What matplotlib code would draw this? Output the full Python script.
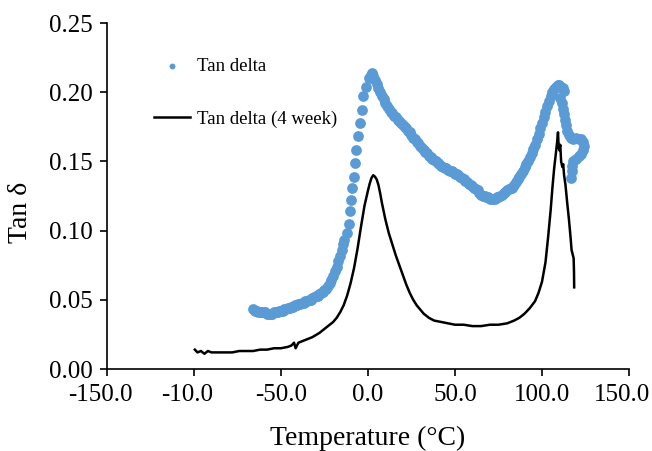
import matplotlib
import matplotlib.transforms as mtransforms

matplotlib.use('Agg')
import matplotlib.pyplot as plt  # noqa: E402

plt.rcParams['font.family'] = ['Liberation Serif', 'DejaVu Serif']

# Tan delta (fresh)
blue_t = [-66, -65, -64, -63, -62, -61, -60, -59, -58, -57, -56, -55, -54, -53,
          -52, -51, -50, -49, -48, -47, -46, -45, -44, -43, -42, -41, -40, -39,
          -38, -37, -36, -35, -34, -33, -32, -31, -30, -29, -28, -27, -26, -25,
          -24, -23, -22, -21, -20, -19, -18, -17, -16, -15, -14.3, -13.8, -11.9,
          -10.9, -10.5, -9.8, -9.0, -8.2, -7.5, -6.7, -5.6, -4.8, -3.6, -2.9,
          -1.3, 0.6, 1.5, 2.5,
          3, 4, 5, 6, 7, 8, 9, 10, 11, 12, 13, 14, 15, 16, 17, 18, 19, 20, 21,
          22, 23, 24, 25, 26, 27, 28, 29, 30, 31, 32, 33, 34, 35, 36, 37, 38,
          39, 40, 41, 42, 43, 44, 45, 46, 47, 48, 49, 50, 51, 52, 53, 54, 55,
          56, 57, 58, 59, 60, 61, 62, 63, 64, 65, 66, 67, 68, 69, 70, 71, 72,
          73, 74, 75, 76, 77, 78, 79, 80, 81, 82, 83, 84, 85, 86, 87, 88, 89,
          90, 91, 92, 93, 94, 95, 96, 97, 98, 99, 100, 101, 102, 103, 104, 105,
          106, 107, 108, 109, 110, 111, 112, 112.6,
          110.5, 111.5, 112, 112.8, 113.2, 114, 114.5, 115.5, 116.5, 118, 119.5,
          121, 122.5, 123.5, 124, 123.5, 122.5, 121, 119.5, 118, 117.5, 117,
          116.6]
blue_tan = [0.043, 0.042, 0.042, 0.041, 0.041, 0.041, 0.041, 0.041, 0.040, 0.040,
            0.040, 0.040, 0.041, 0.041, 0.041, 0.042, 0.042, 0.042, 0.043, 0.043,
            0.044, 0.044, 0.045, 0.045, 0.046, 0.046, 0.047, 0.047, 0.048, 0.048,
            0.049, 0.049, 0.050, 0.050, 0.051, 0.052, 0.053, 0.053, 0.054, 0.055,
            0.056, 0.057, 0.058, 0.060, 0.062, 0.064, 0.067, 0.071, 0.074, 0.078,
            0.082, 0.086, 0.090, 0.093, 0.098, 0.105, 0.114, 0.122, 0.131, 0.139,
            0.149, 0.158, 0.168, 0.178, 0.187, 0.197, 0.204, 0.210, 0.2125, 0.2136,
            0.212, 0.209, 0.206, 0.203, 0.200, 0.197, 0.195, 0.192, 0.190, 0.188,
            0.186, 0.185, 0.183, 0.182, 0.180, 0.179, 0.178, 0.176, 0.175, 0.174,
            0.172, 0.171, 0.169, 0.167, 0.166, 0.164, 0.163, 0.161, 0.160, 0.158,
            0.157, 0.156, 0.154, 0.153, 0.152, 0.151, 0.150, 0.149, 0.148, 0.147,
            0.146, 0.145, 0.145, 0.144, 0.143, 0.143, 0.142, 0.141, 0.141, 0.140,
            0.139, 0.138, 0.137, 0.136, 0.135, 0.134, 0.133, 0.132, 0.131, 0.130,
            0.129, 0.127, 0.126, 0.125, 0.125, 0.124, 0.124, 0.123, 0.123, 0.123,
            0.123, 0.124, 0.124, 0.125, 0.126, 0.127, 0.128, 0.129, 0.130, 0.131,
            0.131, 0.133, 0.135, 0.137, 0.139, 0.141, 0.143, 0.146, 0.148, 0.150,
            0.153, 0.156, 0.159, 0.162, 0.166, 0.170, 0.174, 0.178, 0.182, 0.186,
            0.190, 0.194, 0.197, 0.200, 0.202, 0.204, 0.205, 0.205, 0.204, 0.203,
            0.201,
            0.196, 0.192, 0.188, 0.184, 0.180, 0.176, 0.172, 0.169, 0.167, 0.166,
            0.167, 0.166, 0.166, 0.164, 0.161, 0.158, 0.155, 0.154, 0.152, 0.150,
            0.147, 0.143, 0.138]

# Tan delta after 4 weeks
black_t = [-99.5, -98, -96, -94, -92, -90, -86, -82, -78, -74, -70, -66, -62, -58,
           -54, -50, -46, -44, -42.5, -41.6, -40, -36, -32, -28, -24, -20, -18,
           -16, -14, -12, -10, -8, -6, -4, -2, 0, 1, 2, 3, 4, 5, 6, 7, 8, 10, 12,
           14, 16, 18, 20, 22, 24, 26, 28, 30, 32, 35, 38, 42, 46, 50, 55, 60,
           65, 70, 75, 80, 84, 87, 90, 93, 96, 98, 100, 102, 103.5, 105, 106,
           107, 108, 108.7, 109.2, 109.6, 110, 110.5, 111, 111.7, 112.2, 112.7,
           113.5, 114.5, 115.5, 116.5, 117, 117.8, 118.2, 118.4, 118.5]
black_tan = [0.014, 0.012, 0.013, 0.011, 0.013, 0.012, 0.012, 0.012, 0.012, 0.013,
             0.013, 0.013, 0.014, 0.014, 0.015, 0.015, 0.016, 0.017, 0.019, 0.015,
             0.019, 0.021, 0.023, 0.026, 0.030, 0.034, 0.037, 0.041, 0.046, 0.053,
             0.062, 0.073, 0.087, 0.103, 0.118, 0.129, 0.134, 0.138, 0.140, 0.139,
             0.137, 0.133, 0.127, 0.120, 0.108, 0.098, 0.090, 0.082, 0.075, 0.068,
             0.061, 0.055, 0.050, 0.046, 0.043, 0.040, 0.037, 0.035, 0.034, 0.033,
             0.032, 0.032, 0.031, 0.031, 0.032, 0.032, 0.033, 0.035, 0.037, 0.040,
             0.044, 0.049, 0.055, 0.063, 0.077, 0.095, 0.115, 0.131, 0.145, 0.156,
             0.164, 0.171, 0.160, 0.158, 0.162, 0.150, 0.146, 0.148, 0.140, 0.133,
             0.120, 0.108, 0.094, 0.086, 0.082, 0.080, 0.070, 0.059]

x_ticks = [-150, -100, -50, 0, 50, 100, 150]
x_labels = ['-150.0', '-10.0', '-50.0', '0.0', '50.0', '100.0', '150.0']
y_ticks = [0.00, 0.05, 0.10, 0.15, 0.20, 0.25]
y_labels = ['0.00', '0.05', '0.10', '0.15', '0.20', '0.25']

fig = plt.figure(figsize=(6.52, 4.51), dpi=100)
ax = fig.add_axes([0.1641, 0.1818, 0.8006, 0.7672])

ax.scatter(blue_t, blue_tan, s=60, color='#5B9BD5', linewidths=0,
           label='Tan delta', zorder=2)
ax.plot(black_t, black_tan, color='black', lw=1.8, label='Tan delta (4 week)',
        zorder=3)

ax.set_xlim(-150, 150)
ax.set_ylim(0, 0.25)
ax.set_xticks(x_ticks)
ax.set_xticklabels(x_labels)
ax.set_yticks(y_ticks)
ax.set_yticklabels(y_labels)
ax.tick_params(labelsize=18, length=5, width=1.2, direction='out')
ax.tick_params(axis='x', pad=6)
ax.tick_params(axis='y', pad=5)
for side in ('top', 'right'):
    ax.spines[side].set_visible(False)
for side in ('left', 'bottom'):
    ax.spines[side].set_linewidth(1.2)

# the outer labels sit a little left of their ticks in the original
shift = mtransforms.ScaledTranslation(-0.07, 0, fig.dpi_scale_trans)
xl = ax.get_xticklabels()
for i in (0, 1, len(xl) - 1):
    xl[i].set_transform(xl[i].get_transform() + shift)

ax.set_xlabel('Temperature (°C)', fontsize=20, labelpad=14)
ax.set_ylabel('Tan δ', fontsize=20)
ax.yaxis.set_label_coords(-0.142, 0.454)

ax.legend(loc='upper left', bbox_to_anchor=(0.058, 0.947), frameon=False,
          fontsize=13.5, handlelength=1.9, handletextpad=0.4,
          labelspacing=1.87, scatterpoints=1, markerscale=0.55)

fig.savefig('out.png', dpi=100)
